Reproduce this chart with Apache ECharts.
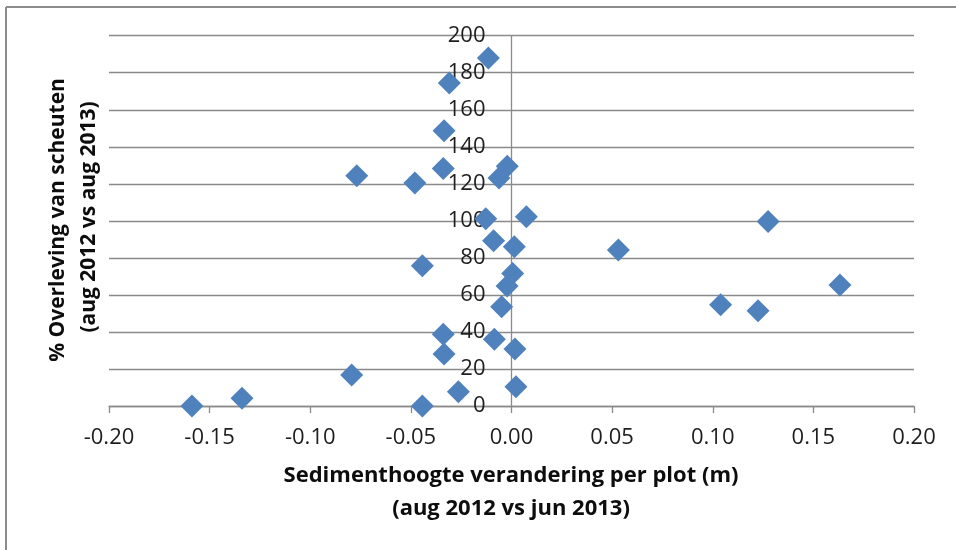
<!DOCTYPE html>
<html>
<head>
<meta charset="utf-8">
<script src="https://cdn.jsdelivr.net/npm/echarts@6/dist/echarts.min.js"></script>
<style>
  html, body {margin: 0; padding: 0; background: #fff;}
  #chart {width: 956px; height: 550px;}
</style>
</head>
<body>
<div id="chart"></div>
<script>
// sediment height change per plot (m), aug 2012 vs jun 2013
const sedimentChange = [
  -0.0115, -0.0309, -0.0335, -0.0769, -0.0480, -0.0339, -0.0062, -0.0021,
  -0.0128, 0.0074, -0.0089, 0.0014, 0.0531, -0.0443, 0.0006, -0.0022,
  -0.0049, 0.1275, 0.1039, 0.1225, 0.1632, -0.0339, -0.0085, -0.0335,
  0.0017, -0.0794, -0.0264, 0.0022, -0.0443, -0.1588, -0.1339,
];
// % survival of shoots, aug 2012 vs aug 2013
const survivalPct = [
  188, 174.5, 148.6, 124.3, 120.5, 128.3, 123.2, 129.5,
  101.1, 102.2, 89.2, 86.0, 84.2, 75.7, 71.6, 64.8,
  53.6, 99.7, 54.7, 51.4, 65.3, 38.7, 36.0, 28.1,
  30.8, 16.7, 7.7, 10.4, 0, 0, 4.2,
];
const xTicks = [-0.2, -0.15, -0.1, -0.05, 0, 0.05, 0.1, 0.15, 0.2];
const yTicks = [0, 20, 40, 60, 80, 100, 120, 140, 160, 180, 200];

const points = sedimentChange.map((x, i) => [x, survivalPct[i]]);

const FONT = "Open Sans";
const gridColor = "#8a8a8a";
const gridLeft = 109;
const gridRight = 42;
const plotWidth = 956 - gridLeft - gridRight;
// y axis sits on x = 0, so shift it inward from the left edge of the grid
const yAxisShift = plotWidth * (0 - xTicks[0]) / (xTicks[xTicks.length - 1] - xTicks[0]);

const chart = echarts.init(document.getElementById("chart"));
const option = {
  animation: false,
  backgroundColor: "#fff",
  grid: {left: gridLeft, right: gridRight, top: 35.7, bottom: 144},
  xAxis: {
    type: "value",
    min: xTicks[0],
    max: xTicks[xTicks.length - 1],
    interval: 0.05,
    axisLine: {show: true, onZero: false, lineStyle: {color: gridColor, width: 1.3}},
    axisTick: {show: true, length: 7, lineStyle: {color: gridColor, width: 1.3}},
    splitLine: {show: false},
    axisLabel: {
      margin: 21,
      color: "#1e1e1e",
      fontFamily: FONT,
      fontSize: 22,
      formatter: (v) => v.toFixed(2),
    },
  },
  yAxis: {
    type: "value",
    min: yTicks[0],
    max: yTicks[yTicks.length - 1],
    interval: 20,
    offset: -yAxisShift,
    axisLine: {show: true, onZero: false, lineStyle: {color: gridColor, width: 1.3}},
    axisTick: {show: false},
    splitLine: {show: true, lineStyle: {color: gridColor, width: 1.3}},
    axisLabel: {
      margin: 26,
      color: "#1e1e1e",
      fontFamily: FONT,
      fontSize: 22,
    },
  },
  series: [
    {
      type: "scatter",
      data: points,
      symbol: "diamond",
      symbolSize: 23,
      itemStyle: {color: "#4F81BD", opacity: 1},
    },
  ],
  graphic: [
    // chart frame: top and left edges only
    {type: "line", shape: {x1: 6, y1: 7, x2: 956, y2: 7}, style: {stroke: "#8c8c8c", lineWidth: 2}},
    {type: "line", shape: {x1: 6, y1: 7, x2: 6, y2: 550}, style: {stroke: "#8c8c8c", lineWidth: 2}},
    {
      type: "text", x: 511, y: 476,
      style: {text: "Sedimenthoogte verandering per plot (m)", align: "center", verticalAlign: "middle",
        fontFamily: FONT, fontWeight: "bold", fontSize: 22, fill: "#0d0d0d"},
    },
    {
      type: "text", x: 511, y: 509,
      style: {text: "(aug 2012 vs jun 2013)", align: "center", verticalAlign: "middle",
        fontFamily: FONT, fontWeight: "bold", fontSize: 22, fill: "#0d0d0d"},
    },
    {
      type: "text", x: 58, y: 220, rotation: Math.PI / 2,
      style: {text: "% Overleving van scheuten", align: "center", verticalAlign: "middle",
        fontFamily: FONT, fontWeight: "bold", fontSize: 21, fill: "#0d0d0d"},
    },
    {
      type: "text", x: 89, y: 217, rotation: Math.PI / 2,
      style: {text: "(aug 2012 vs aug 2013)", align: "center", verticalAlign: "middle",
        fontFamily: FONT, fontWeight: "bold", fontSize: 21, fill: "#0d0d0d"},
    },
  ],
};
chart.setOption(option);
</script>
</body>
</html>
